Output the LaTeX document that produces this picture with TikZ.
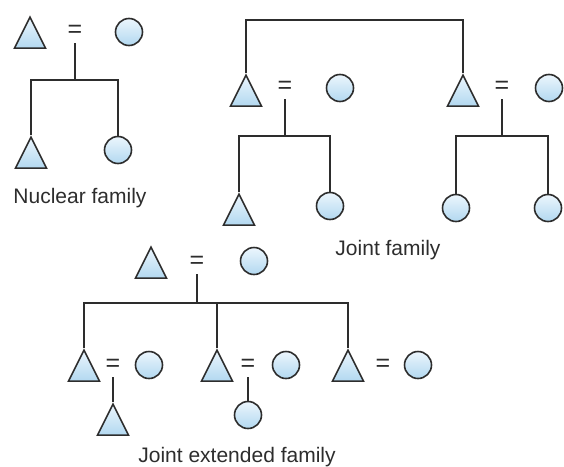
\documentclass[tikz,border=0pt]{standalone}
\usepackage{fontspec}
\setmainfont{Liberation Sans}
\usetikzlibrary{shapes.geometric,positioning}

\definecolor{famlight}{RGB}{236,246,253}
\definecolor{famblue}{RGB}{178,216,240}
\definecolor{famline}{RGB}{45,45,45}

\tikzset{
  tri/.style={isosceles triangle, shape border rotate=90, isosceles triangle stretches,
    minimum width=31pt, minimum height=31pt, inner sep=0pt, anchor=apex,
    draw=famline, line width=1.6pt, top color=famlight, bottom color=famblue},
  wom/.style={circle, minimum size=27pt, inner sep=0pt,
    draw=famline, line width=1.6pt, top color=famlight, bottom color=famblue},
  eqs/.style={inner sep=0pt, minimum height=24pt, text=famline, font=\fontsize{25}{28}\selectfont},
  kin/.style={draw=famline, line width=2.6pt},
  lbl/.style={font=\fontsize{21}{25}\selectfont, text=famline}
}

\begin{document}
\begin{tikzpicture}[x=1pt, y=-1pt]
  \useasboundingbox (0,0) rectangle (564,466);

  % 核心家庭
  \node[tri] (nuF) at (30,15) {};
  \node[eqs] (nuEq) at (75,31) {=};
  \node[wom] (nuM) at (129,32) {};
  \coordinate (nuBar) at (75,80);
  \node[tri] (nuS) at (31,135) {};
  \node[wom] (nuD) at (118,150) {};
  \draw[kin] (nuEq.south) -- (nuBar);
  \draw[kin] (nuS.apex) |- (nuBar) -| (nuD.north);
  \node[lbl] (nuLabel) at (80,198) {Nuclear family};

  % 联合家庭
  \coordinate (joTop) at (350,20);
  \node[tri] (joA) at (246,73) {};
  \node[eqs] (joAEq) at (285,87) {=};
  \node[wom] (joAW) at (340,88) {};
  \coordinate (joABar) at (285,136);
  \node[tri] (joAS) at (239,192) {};
  \node[wom] (joAD) at (330,206) {};

  \node[tri] (joB) at (463,73) {};
  \node[eqs] (joBEq) at (502,87) {=};
  \node[wom] (joBW) at (549,88) {};
  \coordinate (joBBar) at (502,136);
  \node[wom] (joBD1) at (456,208) {};
  \node[wom] (joBD2) at (548,208) {};

  \draw[kin] (joA.apex) |- (joTop) -| (joB.apex);
  \draw[kin] (joAEq.south) -- (joABar);
  \draw[kin] (joAS.apex) |- (joABar) -| (joAD.north);
  \draw[kin] (joBEq.south) -- (joBBar);
  \draw[kin] (joBD1.north) |- (joBBar) -| (joBD2.north);
  \node[lbl] (joLabel) at (388,250) {Joint family};

  % 联合扩展家庭
  \node[tri] (exF) at (151,245) {};
  \node[eqs] (exEq) at (197,262) {=};
  \node[wom] (exM) at (254,261) {};
  \coordinate (exBar) at (197,303);

  \node[tri] (exA) at (84,348) {};
  \node[eqs] (exAEq) at (113,365) {=};
  \node[wom] (exAW) at (149,365) {};
  \node[tri] (exB) at (217,348) {};
  \node[eqs] (exBEq) at (248,365) {=};
  \node[wom] (exBW) at (286,365) {};
  \node[tri] (exC) at (348,348) {};
  \node[eqs] (exCEq) at (383,365) {=};
  \node[wom] (exCW) at (418,365) {};

  \node[tri] (exAS) at (113,402) {};
  \node[wom] (exBD) at (248,415) {};

  \draw[kin] (exEq.south) -- (exBar);
  \draw[kin] (exA.apex) |- (exBar) -| (exC.apex);
  \draw[kin] (exB.apex) -- (exB.apex |- exBar);
  \draw[kin] (exAEq.south) -- (exAS.apex);
  \draw[kin] (exBEq.south) -- (exBD.north);
  \node[lbl] (exLabel) at (237,457) {Joint extended family};
\end{tikzpicture}
\end{document}
